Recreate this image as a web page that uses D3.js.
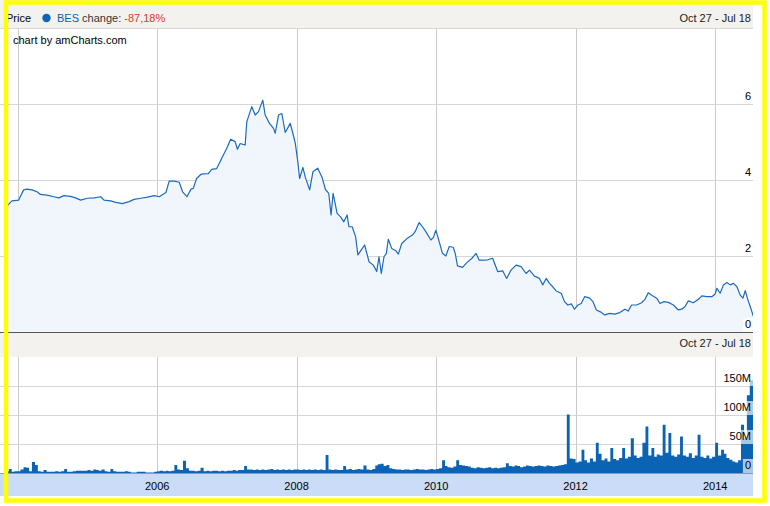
<!DOCTYPE html>
<html>
<head>
<meta charset="utf-8">
<script src="https://cdn.jsdelivr.net/npm/d3@7"></script>
<style>
    body { margin: 0; background: #fff; }
    svg { display: block; font-family: "Liberation Sans", Arial, sans-serif; font-size: 11px; }
</style>
</head>
<body>
<div id="chart"></div>
<script>
// BES price, decimal years (close values)
const priceYears = [
    2003.82, 2003.918, 2004.014, 2004.086, 2004.134, 2004.206, 2004.278, 2004.326, 2004.421, 2004.518,
    2004.590, 2004.662, 2004.758, 2004.830, 2004.902, 2004.997, 2005.093, 2005.190, 2005.237, 2005.334,
    2005.406, 2005.501, 2005.597, 2005.669, 2005.765, 2005.860, 2005.957, 2006.029, 2006.125, 2006.172,
    2006.244, 2006.316, 2006.364, 2006.427, 2006.485, 2006.518, 2006.565, 2006.629, 2006.662, 2006.734,
    2006.781, 2006.853, 2006.902, 2006.949, 2006.997, 2007.054, 2007.118, 2007.151, 2007.190, 2007.262,
    2007.285, 2007.357, 2007.406, 2007.453, 2007.515, 2007.549, 2007.611, 2007.669, 2007.693, 2007.741,
    2007.788, 2007.837, 2007.909, 2007.946, 2007.981, 2008.014, 2008.043, 2008.090, 2008.125, 2008.187,
    2008.234, 2008.302, 2008.364, 2008.413, 2008.460, 2008.493, 2008.522, 2008.580, 2008.629, 2008.676,
    2008.723, 2008.748, 2008.795, 2008.844, 2008.877, 2008.925, 2008.974, 2009.036, 2009.098, 2009.146,
    2009.179, 2009.213, 2009.251, 2009.285, 2009.313, 2009.362, 2009.420, 2009.457, 2009.506, 2009.587,
    2009.659, 2009.698, 2009.755, 2009.803, 2009.851, 2009.923, 2009.961, 2009.995, 2010.043, 2010.090,
    2010.139, 2010.187, 2010.244, 2010.273, 2010.306, 2010.378, 2010.436, 2010.513, 2010.571, 2010.618,
    2010.676, 2010.738, 2010.810, 2010.882, 2010.954, 2011.011, 2011.074, 2011.146, 2011.218, 2011.290,
    2011.338, 2011.410, 2011.482, 2011.529, 2011.578, 2011.625, 2011.673, 2011.722, 2011.794, 2011.841,
    2011.889, 2011.938, 2011.985, 2012.033, 2012.081, 2012.129, 2012.201, 2012.248, 2012.297, 2012.355,
    2012.417, 2012.489, 2012.561, 2012.633, 2012.705, 2012.752, 2012.801, 2012.873, 2012.945, 2012.992,
    2013.040, 2013.089, 2013.161, 2013.208, 2013.266, 2013.328, 2013.400, 2013.471, 2013.520, 2013.568,
    2013.615, 2013.687, 2013.759, 2013.808, 2013.880, 2013.952, 2013.999, 2014.024, 2014.071, 2014.119,
    2014.168, 2014.215, 2014.263, 2014.312, 2014.359, 2014.398, 2014.431, 2014.470, 2014.503, 2014.546
];
const priceValues = [
    3.26, 3.45, 3.47, 3.74, 3.76, 3.74, 3.69, 3.62, 3.60, 3.56,
    3.53, 3.59, 3.57, 3.53, 3.47, 3.52, 3.53, 3.56, 3.47, 3.45,
    3.41, 3.38, 3.43, 3.49, 3.52, 3.55, 3.59, 3.56, 3.67, 3.97,
    3.97, 3.94, 3.69, 3.56, 3.76, 3.78, 4.04, 4.15, 4.16, 4.17,
    4.28, 4.30, 4.48, 4.66, 4.83, 5.07, 5.01, 4.81, 4.96, 4.92,
    5.53, 5.93, 5.71, 5.80, 6.10, 5.71, 5.49, 5.36, 5.23, 5.71,
    5.75, 5.25, 5.49, 5.23, 4.97, 4.53, 4.04, 4.33, 4.07, 3.74,
    4.22, 4.31, 4.07, 3.75, 3.65, 3.08, 3.65, 3.12, 3.03, 2.90,
    3.08, 2.77, 2.77, 2.51, 2.03, 2.16, 2.29, 1.85, 1.76, 1.59,
    1.98, 1.54, 1.98, 2.07, 2.44, 2.20, 2.14, 2.05, 2.33, 2.47,
    2.55, 2.64, 2.88, 2.77, 2.64, 2.42, 2.49, 2.68, 2.38, 2.07,
    2.00, 2.25, 2.23, 2.07, 1.74, 1.70, 1.82, 1.94, 2.07, 1.89,
    1.89, 1.90, 1.94, 1.59, 1.61, 1.41, 1.63, 1.76, 1.72, 1.54,
    1.63, 1.47, 1.41, 1.24, 1.41, 1.28, 1.19, 1.08, 1.02, 0.80,
    0.71, 0.74, 0.60, 0.71, 0.75, 0.93, 0.89, 0.80, 0.58, 0.53,
    0.45, 0.49, 0.47, 0.51, 0.60, 0.55, 0.71, 0.71, 0.77, 0.86,
    1.03, 0.97, 0.89, 0.75, 0.80, 0.78, 0.71, 0.58, 0.60, 0.67,
    0.82, 0.77, 0.86, 0.95, 0.93, 0.93, 1.00, 1.15, 1.02, 1.24,
    1.30, 1.24, 1.28, 1.19, 0.97, 0.89, 1.09, 0.84, 0.67, 0.42
];

// volume in millions, one value per half month (1st and 16th), starting Nov 2003
const volume2003 = [3, 7, 2, 3];
const volume2004 = [3, 6, 10, 9, 3, 19, 14, 3, 2, 5, 2, 2, 2, 3, 2, 3, 7, 2, 2, 3, 4, 4, 4, 4];
const volume2005 = [5, 4, 6, 5, 4, 6, 3, 2, 7, 3, 2, 2, 2, 3, 2, 1, 1, 2, 2, 2, 1, 1, 1, 2];
const volume2006 = [3, 4, 3, 4, 3, 4, 14, 6, 5, 21, 8, 4, 4, 3, 4, 9, 3, 4, 3, 4, 4, 3, 4, 3];
const volume2007 = [4, 4, 5, 4, 5, 5, 12, 6, 6, 5, 6, 5, 6, 5, 6, 7, 5, 6, 5, 6, 5, 6, 5, 6];
const volume2008 = [6, 5, 6, 5, 6, 5, 6, 5, 6, 5, 31, 6, 5, 6, 5, 5, 12, 6, 7, 5, 6, 7, 6, 13];
const volume2009 = [6, 5, 7, 13, 15, 16, 12, 14, 8, 7, 6, 6, 5, 6, 6, 5, 6, 7, 6, 6, 5, 6, 7, 6];
const volume2010 = [7, 8, 22, 12, 10, 9, 11, 22, 14, 13, 12, 11, 9, 8, 10, 9, 8, 9, 10, 8, 9, 8, 9, 10];
const volume2011 = [17, 12, 11, 13, 12, 10, 11, 13, 12, 11, 12, 13, 12, 11, 13, 12, 11, 12, 13, 14, 15, 101, 25, 24];
const volume2012 = [18, 20, 40, 22, 18, 25, 20, 52, 33, 22, 25, 20, 43, 24, 22, 26, 43, 25, 28, 60, 30, 26, 28, 52];
const volume2013 = [80, 30, 43, 28, 32, 30, 83, 35, 69, 30, 28, 32, 63, 30, 28, 34, 26, 30, 66, 28, 26, 30, 25, 28];
const volume2014 = [52, 30, 40, 33, 26, 23, 20, 18, 22, 83, 60, 134, 160];

const gridYears = [2004, 2006, 2008, 2010, 2012, 2014];
const labelYears = [2006, 2008, 2010, 2012, 2014];
const priceTicks = [0, 2, 4, 6];
const volumeTicks = [0, 50, 100, 150];

const panelTitle = "Price";
const seriesName = "BES";
const changeLabel = "change:";
const changeValue = "-87,18%";
const periodText = "Oct 27 - Jul 18";
const creditText = "chart by amCharts.com";

function fromYear(y) {
    const yr = Math.floor(y);
    const a = new Date(yr, 0, 1);
    const b = new Date(yr + 1, 0, 1);
    return new Date(+a + (y - yr) * (b - a));
}

const width = 770;
const height = 506;
const left = 5;
const right = 753;
const price = {top: 28, bottom: 332};
const vol = {top: 357, bottom: 473};
const startDate = new Date(2003, 9, 27);
const endDate = new Date(2014, 6, 18);

const prices = priceYears.map((t, i) => ({date: fromYear(t), value: priceValues[i]}));
const volumes = [].concat(volume2003, volume2004, volume2005, volume2006, volume2007, volume2008,
    volume2009, volume2010, volume2011, volume2012, volume2013, volume2014)
    .map((v, i) => ({date: new Date(2003, 10 + Math.floor(i / 2), i % 2 ? 16 : 1), value: v}));
// close the last half-month column at the last trading day
volumes.push({date: endDate, value: volumes[volumes.length - 1].value});

const x = d3.scaleTime()
    .domain([startDate, endDate])
    .range([left, right]);
const yP = d3.scaleLinear().domain([0, 8]).range([price.bottom, price.top]);
const yV = d3.scaleLinear().domain([0, 200]).range([vol.bottom, vol.top]);

const svg = d3.select("#chart").append("svg")
    .attr("width", width)
    .attr("height", height)
    .attr("viewBox", [0, 0, width, height]);

svg.append("clipPath").attr("id", "plot")
    .append("rect")
    .attr("x", left).attr("y", 0)
    .attr("width", right - left).attr("height", height);

// header bars
svg.append("rect").attr("x", 0).attr("y", 0).attr("width", right).attr("height", price.top)
    .attr("fill", "#f3f2ef");
svg.append("rect").attr("x", 0).attr("y", price.bottom).attr("width", right).attr("height", vol.top - price.bottom)
    .attr("fill", "#f3f2ef");
svg.append("rect").attr("x", 0).attr("y", vol.bottom).attr("width", right).attr("height", 23)
    .attr("fill", "#cadcf7");

// grid
const grid = svg.append("g");
[[price.top, price.bottom], [vol.top, vol.bottom]].forEach(([t, b]) => {
    grid.selectAll(null)
        .data(gridYears)
        .join("line")
        .attr("x1", d => Math.round(x(new Date(d, 0, 1))) + 0.5)
        .attr("x2", d => Math.round(x(new Date(d, 0, 1))) + 0.5)
        .attr("y1", t)
        .attr("y2", b)
        .attr("stroke", "#cacaca");
});
grid.selectAll(null)
    .data(priceTicks.concat([8]))
    .join("line")
    .attr("x1", 0).attr("x2", right)
    .attr("y1", d => Math.round(yP(d)) + 0.5)
    .attr("y2", d => Math.round(yP(d)) + 0.5)
    .attr("stroke", "#d6d6d6");
grid.selectAll(null)
    .data(volumeTicks.slice(1))
    .join("line")
    .attr("x1", 0).attr("x2", right)
    .attr("y1", d => Math.round(yV(d)) + 0.5)
    .attr("y2", d => Math.round(yV(d)) + 0.5)
    .attr("stroke", "#d6d6d6");

// price area + line
const area = d3.area()
    .x(d => x(d.date))
    .y0(yP(0))
    .y1(d => yP(d.value));
const line = d3.line()
    .x(d => x(d.date))
    .y(d => yP(d.value));

const plot = svg.append("g").attr("clip-path", "url(#plot)");
plot.append("path")
    .datum(prices)
    .attr("d", area)
    .attr("fill", "#f1f6fc");
plot.append("path")
    .datum(prices)
    .attr("d", line)
    .attr("fill", "none")
    .attr("stroke", "#1a6bbd")
    .attr("stroke-width", 1.2)
    .attr("stroke-linejoin", "round");

// volume columns, gapless (one step outline)
const volArea = d3.area()
    .curve(d3.curveStepAfter)
    .x(d => x(d.date))
    .y0(yV(0))
    .y1(d => yV(d.value));
plot.append("path")
    .datum(volumes)
    .attr("d", volArea)
    .attr("fill", "#0b63b3");

// axis lines
svg.append("line")
    .attr("x1", 0).attr("x2", right)
    .attr("y1", price.bottom + 0.5).attr("y2", price.bottom + 0.5)
    .attr("stroke", "#555");
svg.append("line")
    .attr("x1", 0).attr("x2", right)
    .attr("y1", vol.bottom + 0.5).attr("y2", vol.bottom + 0.5)
    .attr("stroke", "#8a9bb0");

// value labels (inside, right side)
function valueLabels(ticks, scale, fmt) {
    const g = svg.append("g");
    ticks.forEach(t => {
        const bg = g.append("rect").attr("fill", "#fff").attr("fill-opacity", 0.65);
        const txt = g.append("text")
            .attr("x", right - 2)
            .attr("y", scale(t) - 4)
            .attr("text-anchor", "end")
            .attr("fill", "#000")
            .text(fmt(t));
        const w = txt.node().getComputedTextLength();
        bg.attr("x", right - w - 4).attr("y", scale(t) - 14)
            .attr("width", w + 4).attr("height", 14);
    });
}
valueLabels(priceTicks, yP, d => d);
valueLabels(volumeTicks, yV, d => d === 0 ? "0" : d + "M");

// year labels
svg.append("g")
    .selectAll("text")
    .data(labelYears)
    .join("text")
    .attr("x", d => x(new Date(d, 0, 1)))
    .attr("y", 490)
    .attr("text-anchor", "middle")
    .attr("fill", "#000")
    .text(d => d);

// header texts
const head = svg.append("text").attr("x", 6).attr("y", 22);
head.append("tspan").attr("fill", "#000").text(panelTitle);
svg.append("circle").attr("cx", 46.5).attr("cy", 18).attr("r", 4.2).attr("fill", "#0b64bf");
const legend = svg.append("text").attr("x", 57).attr("y", 22);
legend.append("tspan").attr("fill", "#0b5fb5").text(seriesName);
legend.append("tspan").attr("fill", "#333").text(" " + changeLabel + " ");
legend.append("tspan").attr("fill", "#e2392c").text(changeValue);

[price.top - 6, vol.top - 10].forEach(yy => {
    svg.append("text")
        .attr("x", right - 2)
        .attr("y", yy)
        .attr("text-anchor", "end")
        .attr("fill", "#222")
        .text(periodText);
});

svg.append("text")
    .attr("x", 13)
    .attr("y", 44)
    .attr("fill", "#000")
    .text(creditText);

// yellow frame
svg.append("rect")
    .attr("x", 6)
    .attr("y", 2.5)
    .attr("width", 758.5)
    .attr("height", 498)
    .attr("fill", "none")
    .attr("stroke", "#ffff00")
    .attr("stroke-width", 4.5);
</script>
</body>
</html>
